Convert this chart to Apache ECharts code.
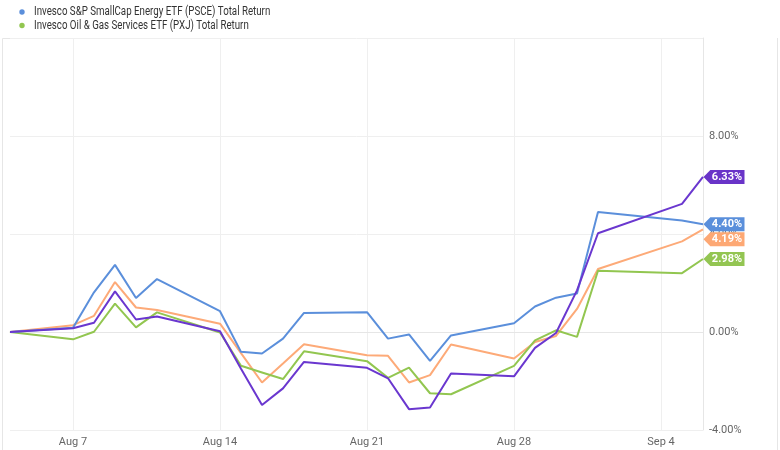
<!DOCTYPE html>
<html>
<head>
<meta charset="utf-8">
<script src="https://cdn.jsdelivr.net/npm/echarts@6/dist/echarts.min.js"></script>
<style>
html,body{margin:0;padding:0;background:#fff;}
#chart{width:780px;height:450px;}
</style>
</head>
<body>
<div id="chart"></div>
<script>
// Trading days
const dates = ['2023-08-04','2023-08-07','2023-08-08','2023-08-09','2023-08-10','2023-08-11',
  '2023-08-14','2023-08-15','2023-08-16','2023-08-17','2023-08-18',
  '2023-08-21','2023-08-22','2023-08-23','2023-08-24','2023-08-25',
  '2023-08-28','2023-08-29','2023-08-30','2023-08-31','2023-09-01',
  '2023-09-05','2023-09-06'];

// Total return (%) per series
const psce = [0, 0.17, 1.62, 2.74, 1.39, 2.16, 0.85, -0.81, -0.88, -0.27, 0.78, 0.81, -0.27, -0.10, -1.18, -0.14, 0.36, 1.04, 1.40, 1.57, 4.90, 4.55, 4.40];
const pxj = [0, -0.30, 0.01, 1.16, 0.19, 0.80, -0.02, -1.38, -1.65, -1.92, -0.79, -1.19, -1.87, -1.45, -2.50, -2.54, -1.38, -0.34, 0.07, -0.20, 2.50, 2.40, 2.98];
const orangeVals = [0, 0.28, 0.66, 2.04, 1.00, 0.90, 0.34, -0.86, -2.06, -1.29, -0.50, -0.95, -0.97, -2.06, -1.76, -0.51, -1.08, -0.41, -0.16, 0.94, 2.57, 3.70, 4.19];
const purpleVals = [0, 0.15, 0.38, 1.66, 0.51, 0.63, 0.03, -1.50, -2.98, -2.30, -1.22, -1.46, -1.89, -3.15, -3.08, -1.69, -1.81, -0.65, -0.04, 1.70, 4.03, 5.23, 6.33];

const seriesNames = [
  'Invesco S&P SmallCap Energy ETF (PSCE) Total Return',
  'Invesco Oil & Gas Services ETF (PXJ) Total Return',
  'Invesco Dynamic Energy Exploration & Production ETF (PXE) Total Return',
  'Invesco S&P 500 Equal Weight Energy ETF (RSPG) Total Return'
];
const legendNames = [seriesNames[0], seriesNames[1]];
const legendColors = ['#5b8fdb', '#92c650'];
const yTicks = { min: -4, max: 12, interval: 4 };
const monthNames = ['Jan','Feb','Mar','Apr','May','Jun','Jul','Aug','Sep','Oct','Nov','Dec'];

// calendar days spanning the data (weekends are gaps)
function calendar(first, last) {
  const out = [];
  let t = Date.parse(first + 'T00:00:00Z');
  const end = Date.parse(last + 'T00:00:00Z');
  while (t <= end) { out.push(new Date(t).toISOString().slice(0, 10)); t += 86400000; }
  return out;
}
const cal = calendar(dates[0], dates[dates.length - 1]);
function full(vals) {
  const m = {};
  dates.forEach((d, i) => { m[d] = vals[i]; });
  return cal.map(d => (d in m ? m[d] : null));
}
function isMonday(d) { return new Date(d + 'T00:00:00Z').getUTCDay() === 1; }
function fmtDate(d) { const dt = new Date(d + 'T00:00:00Z'); return monthNames[dt.getUTCMonth()] + ' ' + dt.getUTCDate(); }

const FONT = 'Roboto, sans-serif';
const tagPath = 'path://M0,7L7,0L42,0L42,14L7,14Z';

function mkSeries(name, vals, color, tagColor, tagShift, z) {
  const last = vals[vals.length - 1];
  return {
    name: name, type: 'line', data: full(vals), connectNulls: true,
    symbol: 'none', z: z,
    lineStyle: { width: 2, color: color }, itemStyle: { color: color },
    emphasis: { disabled: true },
    markPoint: {
      symbol: tagPath, symbolSize: [41, 14], symbolOffset: [21, tagShift],
      symbolKeepAspect: false, silent: true,
      itemStyle: { color: tagColor },
      label: { show: true, color: '#fff', fontWeight: 'bold', fontSize: 11, fontFamily: FONT,
        offset: [3, 0], formatter: p => Number(p.value).toFixed(2) + '%' },
      data: [{ coord: [dates[dates.length - 1], last], value: last }]
    }
  };
}

// compact legend (condensed text, as in the source)
const legendGraphic = [];
legendNames.forEach((n, i) => {
  const cy = 12 + i * 13.5;
  legendGraphic.push({ type: 'circle', shape: { cx: 22, cy: cy, r: 2.7 }, style: { fill: legendColors[i] }, silent: true });
  legendGraphic.push({ type: 'text', x: 34, y: cy, scaleX: 0.81, silent: true,
    style: { text: n, fontSize: 12, fontFamily: FONT, fill: '#333', verticalAlign: 'middle', align: 'left' } });
});

const chart = echarts.init(document.getElementById('chart'), null, { renderer: 'canvas' });
chart.setOption({
  animation: false,
  backgroundColor: '#fff',
  grid: { left: 10, right: 77, top: 38, bottom: 20, containLabel: false },
  xAxis: {
    type: 'category', data: cal, boundaryGap: false,
    axisLine: { show: true, lineStyle: { color: '#e6e6e6' } },
    axisTick: { show: false },
    axisLabel: { interval: (i, v) => isMonday(v), formatter: v => fmtDate(v), color: '#666', fontSize: 11, margin: 7, fontFamily: FONT },
    splitLine: { show: true, interval: (i, v) => isMonday(v), lineStyle: { color: '#efefef', width: 1 } }
  },
  yAxis: {
    type: 'value', position: 'right', min: yTicks.min, max: yTicks.max, interval: yTicks.interval,
    axisLine: { show: true, lineStyle: { color: '#e6e6e6' } },
    axisTick: { show: false },
    axisLabel: { formatter: v => v.toFixed(2) + '%', showMaxLabel: false, color: '#666', fontSize: 11, margin: 6, padding: [0, 0, 8, 0], fontFamily: FONT },
    splitLine: { show: true, lineStyle: { color: '#efefef', width: 1 } }
  },
  graphic: legendGraphic.concat([
    { type: 'polyline', shape: { points: [[2.5, 450], [2.5, 38.5], [10, 38.5]] }, style: { stroke: '#e6e6e6', lineWidth: 1, fill: null }, silent: true },
    { type: 'line', shape: { x1: 777.5, y1: 38, x2: 777.5, y2: 450 }, style: { stroke: '#e6e6e6', lineWidth: 1 }, silent: true }
  ]),
  series: [
    mkSeries(seriesNames[3], orangeVals, '#fdaa78', '#fda874', 10, 3),
    mkSeries(seriesNames[1], pxj, '#92c650', '#93c552', 0, 4),
    mkSeries(seriesNames[0], psce, '#5b8fdb', '#5a8fdb', 0, 5),
    mkSeries(seriesNames[2], purpleVals, '#6a37cf', '#6934c8', 0, 6)
  ]
});
</script>
</body>
</html>
